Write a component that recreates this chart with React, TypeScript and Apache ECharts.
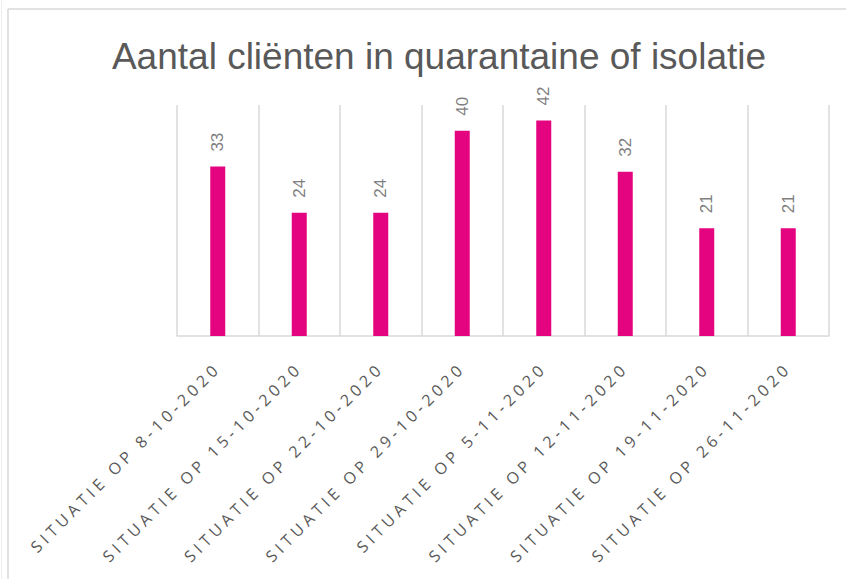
import React, { useEffect, useRef } from "react";
import * as echarts from "echarts";

const categories = [
  "SITUATIE OP 8-10-2020",
  "SITUATIE OP 15-10-2020",
  "SITUATIE OP 22-10-2020",
  "SITUATIE OP 29-10-2020",
  "SITUATIE OP 5-11-2020",
  "SITUATIE OP 12-11-2020",
  "SITUATIE OP 19-11-2020",
  "SITUATIE OP 26-11-2020",
];
const values = [33, 24, 24, 40, 42, 32, 21, 21];
const titleText = "Aantal cliënten in quarantaine of isolatie";

export default function App() {
  const ref = useRef<HTMLDivElement>(null);
  useEffect(() => {
    if (!ref.current) return;
    const el = ref.current;
    const chart = echarts.init(el, null, { renderer: "svg" });
    const applySpacing = () => {
      el.querySelectorAll("text").forEach((t) => {
        const s = t.textContent || "";
        if (s.startsWith("SITUATIE")) {
          (t as SVGTextElement).style.letterSpacing = "4.3px";
        }
      });
    };
    chart.on("finished", applySpacing);
    chart.setOption({
      animation: false,
      backgroundColor: "#ffffff",
      title: {
        text: titleText,
        left: 434,
        textAlign: "center",
        top: 33,
        textStyle: {
          fontFamily: "Liberation Sans, Arial, sans-serif",
          fontWeight: "normal",
          fontSize: 37,
          color: "#595959",
        },
      },
      graphic: [
        {
          type: "line",
          shape: { x1: 8, y1: 9, x2: 8, y2: 579 },
          style: { stroke: "#d9d9d9", lineWidth: 1.5 },
          silent: true,
        },
        {
          type: "line",
          shape: { x1: 8, y1: 9, x2: 846, y2: 9 },
          style: { stroke: "#d9d9d9", lineWidth: 1.5 },
          silent: true,
        },
        {
          type: "line",
          shape: { x1: 1.5, y1: 0, x2: 1.5, y2: 579 },
          style: { stroke: "#eeeeee", lineWidth: 1 },
          silent: true,
        },
      ],
      grid: { left: 177, right: 17, top: 105, bottom: 243 },
      xAxis: {
        type: "category",
        data: categories,
        axisLine: { show: true, lineStyle: { color: "#d9d9d9", width: 1.5 } },
        axisTick: { show: false },
        splitLine: { show: true, lineStyle: { color: "#d9d9d9", width: 1.5 } },
        axisLabel: {
          rotate: 45,
          interval: 0,
          margin: 29,
          fontFamily: "Open Sans, sans-serif",
          fontSize: 16,
          color: "#595959",
        },
      },
      yAxis: {
        type: "value",
        min: 0,
        max: 45,
        show: false,
        splitLine: { show: false },
      },
      series: [
        {
          type: "bar",
          data: values,
          barWidth: 15,
          itemStyle: { color: "#E4047F" },
          label: {
            show: true,
            position: "top",
            rotate: 90,
            align: "left",
            verticalAlign: "middle",
            distance: 15,
            fontFamily: "Liberation Sans, Arial, sans-serif",
            fontSize: 17,
            color: "#7f7f7f",
          },
        },
      ],
    });
    applySpacing();
    return () => chart.dispose();
  }, []);
  return (
    <div
      ref={ref}
      style={{ position: "fixed", left: 0, top: 0, width: 846, height: 579 }}
    />
  );
}
